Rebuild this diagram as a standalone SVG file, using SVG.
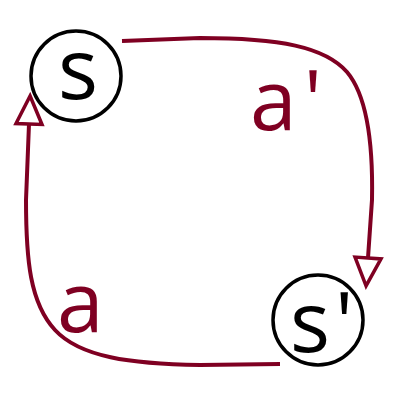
<svg xmlns="http://www.w3.org/2000/svg" width="400" height="400" viewBox="0 0 400 400">
<style>
.node{fill:#ffffff;stroke:#000000;stroke-width:3.5}
.lbl{font-family:"Open Sans","Noto Sans",sans-serif;font-size:84px;fill:#000000}
.elbl{font-family:"Open Sans","Noto Sans",sans-serif;font-size:84px;fill:#7f0022}
.edge{fill:none;stroke:#7f0022;stroke-width:4;marker-end:url(#arr)}
</style>
<defs>
<marker id="arr" viewBox="-3 -3 35 32" markerWidth="35" markerHeight="32" refX="0" refY="13" orient="auto" markerUnits="userSpaceOnUse">
<path d="M0,0 L28,13 L0,26 Z" fill="#ffffff" stroke="#7f0022" stroke-width="3.5"/>
</marker>
</defs>
<rect width="400" height="400" fill="#ffffff"/>
<g id="connectors">
<path class="edge" d="M122,41 L200,38 C280,38 325,47 347,72 C369,98 373,150 372,200 L368,258"/>
<path class="edge" d="M280,364 L200,365 C130,364 80,357 55,330 C30,303 26,260 26,200 L29,124"/>
</g>
<g id="node-s">
<circle class="node" cx="76" cy="76" r="45"/>
<text class="lbl" x="58" y="99">s</text>
</g>
<g id="node-s-prime">
<circle class="node" cx="318" cy="320" r="45"/>
<text class="lbl" x="290" y="352">s<tspan dx="5">'</tspan></text>
</g>
<g id="label-a-prime">
<text class="elbl" x="250" y="130">a<tspan dx="7">'</tspan></text>
</g>
<g id="label-a">
<text class="elbl" x="57" y="332">a</text>
</g>
</svg>
